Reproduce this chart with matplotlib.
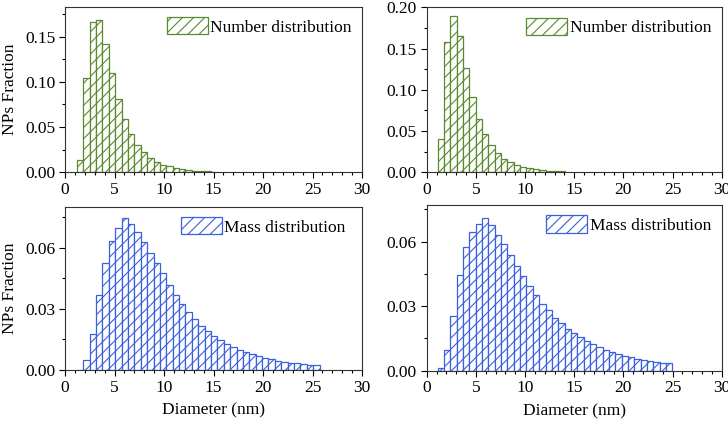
import numpy as np
import matplotlib
matplotlib.use('Agg')
import matplotlib.pyplot as plt
from matplotlib.ticker import MultipleLocator

plt.rcParams['font.family'] = ['Liberation Serif', 'DejaVu Serif']
plt.rcParams['font.size'] = 12.5
plt.rcParams['hatch.linewidth'] = 0.8

# bin layout (nm)
bin_width = 0.645
start_left = 1.2
start_right = 1.12

# number distribution, left and right
num_left = [0.0136, 0.1037, 0.166, 0.168, 0.142, 0.110, 0.081, 0.0588, 0.0423, 0.0305,
            0.022, 0.0162, 0.0115, 0.0085, 0.0065, 0.0048, 0.0036, 0.0027, 0.002, 0.0015,
            0.0011, 0.0007]
num_right = [0.0408, 0.158, 0.190, 0.165, 0.126, 0.0917, 0.065, 0.046, 0.0327, 0.023,
             0.016, 0.012, 0.0089, 0.0066, 0.005, 0.0037, 0.0027, 0.002, 0.0014, 0.001]

# mass distribution, left and right
mass_left = [0.0, 0.0049, 0.0178, 0.0368, 0.0525, 0.0632, 0.0694, 0.0743, 0.0714, 0.0675,
             0.0629, 0.0574, 0.0522, 0.0474, 0.0417, 0.0365, 0.0324, 0.0284, 0.025, 0.0217,
             0.019, 0.0167, 0.0146, 0.0128, 0.0112, 0.0098, 0.0086, 0.0076, 0.0067, 0.0059,
             0.0052, 0.0046, 0.0041, 0.0036, 0.0032, 0.0029, 0.0026, 0.0023]
mass_right = [0.0011, 0.0094, 0.0255, 0.0447, 0.0575, 0.0645, 0.0683, 0.0711, 0.0676, 0.0629,
              0.0589, 0.0537, 0.0487, 0.0442, 0.0393, 0.0351, 0.0308, 0.0281, 0.0243, 0.0220,
              0.0196, 0.0175, 0.0157, 0.014, 0.0124, 0.011, 0.0098, 0.0087, 0.0078, 0.007,
              0.0062, 0.0056, 0.005, 0.0045, 0.0041, 0.0037, 0.0034]

green = '#5a8a2e'
blue = '#3a60e0'

fig = plt.figure(figsize=(7.28, 4.26), dpi=100)
ax1 = fig.add_axes([0.0893, 0.5955, 0.408, 0.3888])
ax2 = fig.add_axes([0.5861, 0.5955, 0.4052, 0.3874])
ax3 = fig.add_axes([0.0893, 0.1315, 0.408, 0.3833])
ax4 = fig.add_axes([0.5861, 0.1298, 0.4052, 0.3890])


def draw(ax, vals, start, color, label, ymax, ymaj, ymin_step, leg_x=1.0):
    x = start + bin_width * np.arange(len(vals))
    ax.bar(x, vals, width=bin_width, align='edge', facecolor='white',
           edgecolor=color, linewidth=0.9, hatch='///', label=label)
    ax.set_xlim(0, 30)
    ax.set_ylim(0, ymax)
    ax.xaxis.set_major_locator(MultipleLocator(5))
    ax.xaxis.set_minor_locator(MultipleLocator(1))
    ax.yaxis.set_major_locator(MultipleLocator(ymaj))
    ax.yaxis.set_minor_locator(MultipleLocator(ymin_step))
    ax.yaxis.set_major_formatter(plt.FormatStrFormatter('%.2f'))
    ax.tick_params(which='both', direction='out', top=False, right=False, labelsize=12.5)
    ax.tick_params(which='major', length=4.5, width=0.8, pad=2.5)
    ax.tick_params(which='minor', length=2.5, width=0.8)
    for s in ax.spines.values():
        s.set_linewidth(0.8)
        s.set_color('#333333')
    ax.legend(loc='upper right', bbox_to_anchor=(leg_x, 1.0), frameon=False,
              fontsize=12.5, handlelength=2.35, handleheight=1.15,
              handletextpad=0.15, borderaxespad=0.2)


draw(ax1, num_left, start_left, green, 'Number distribution', 0.183, 0.05, 0.025)
draw(ax2, num_right, start_right, green, 'Number distribution', 0.20, 0.05, 0.025)
draw(ax3, mass_left, start_left, blue, 'Mass distribution', 0.08, 0.03, 0.015, leg_x=0.98)
draw(ax4, mass_right, start_right, blue, 'Mass distribution', 0.077, 0.03, 0.015)

ax1.set_ylabel('NPs Fraction', fontsize=12.5, labelpad=5)
ax3.set_ylabel('NPs Fraction', fontsize=12.5, labelpad=5)
ax3.set_xlabel('Diameter (nm)', fontsize=12.5, labelpad=5)
ax4.set_xlabel('Diameter (nm)', fontsize=12.5, labelpad=5)

fig.savefig('out.png', dpi=100)
